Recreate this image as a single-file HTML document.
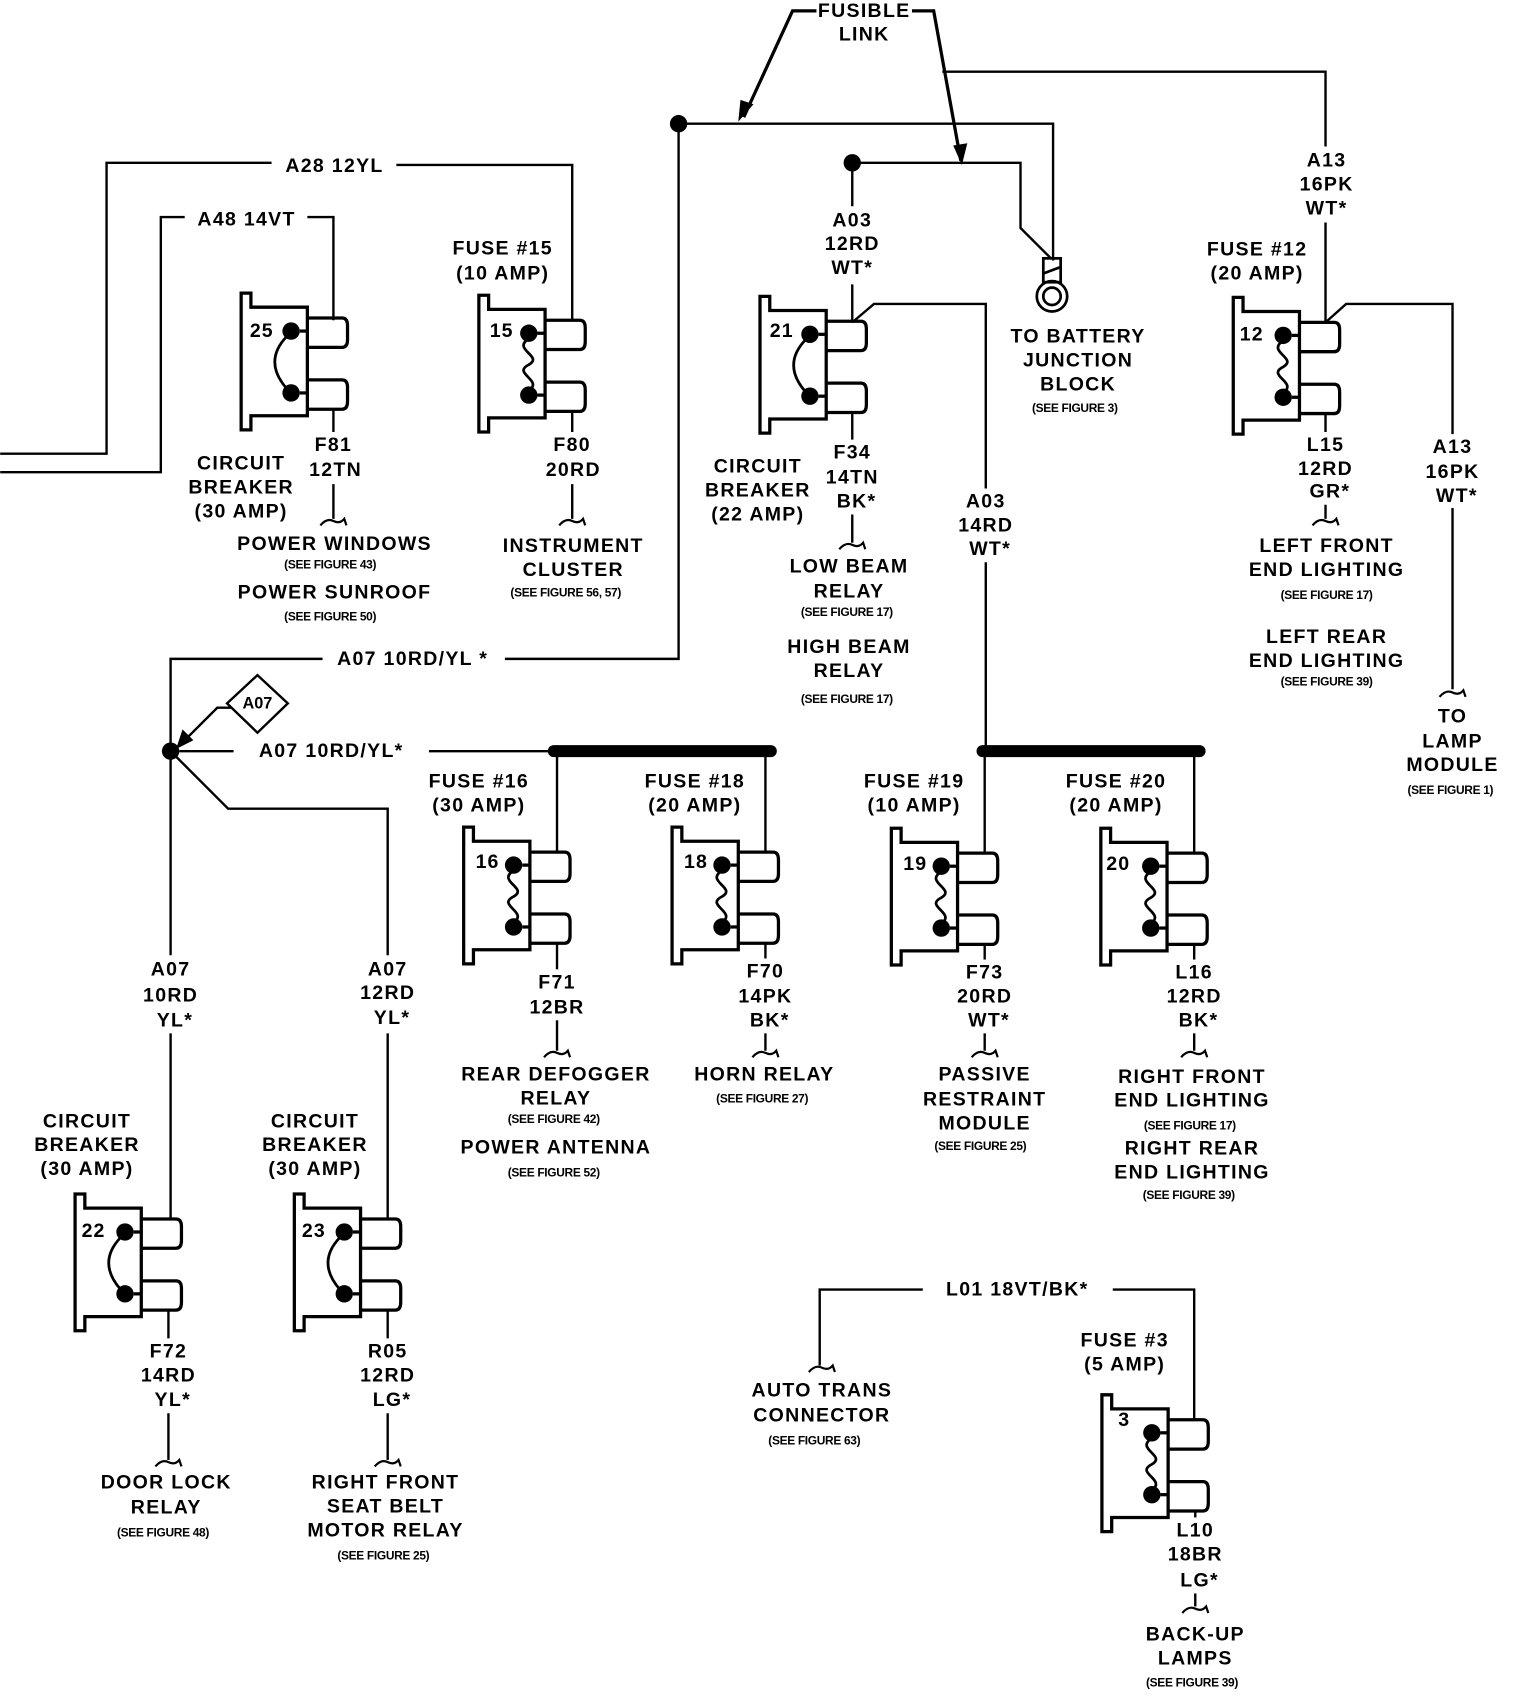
<!DOCTYPE html>
<html><head><meta charset="utf-8"><style>
html,body{margin:0;padding:0;background:#fff;}
svg{display:block;}
text{font-family:"Liberation Sans",sans-serif;font-weight:bold;fill:#000;}
.t{font-size:18px;letter-spacing:1.2px;text-anchor:middle;dominant-baseline:central;}
.s{font-size:11px;text-anchor:middle;dominant-baseline:central;letter-spacing:-0.3px;}
.n{font-size:18px;letter-spacing:1px;dominant-baseline:central;}
</style></head><body>
<svg width="1520" height="1702" viewBox="0 0 1400 1568" xmlns="http://www.w3.org/2000/svg">
<defs>
<g id="body" fill="none" stroke="#000" stroke-width="3">
<path d="M0,0H9V13H61V113H9V126H0Z" fill="#fff"/>
<path d="M61,23H93Q98,23 98,30V43Q98,50 93,50H61"/>
<path d="M61,80H93Q98,80 98,87V100Q98,107 93,107H61"/>
<circle cx="46" cy="35" r="8" fill="#000" stroke="none"/>
<circle cx="46" cy="92" r="8" fill="#000" stroke="none"/>
<line x1="54" y1="35" x2="61" y2="35"/><line x1="54" y1="92" x2="61" y2="92"/>
</g>
<g id="br"><use href="#body"/><path d="M42,40 Q20,63 42,88" fill="none" stroke="#000" stroke-width="2.5"/></g>
<g id="fu"><use href="#body"/><path d="M46,40 C30,50 60,56 46,64 C30,72 60,78 46,88" fill="none" stroke="#000" stroke-width="2.5"/></g>
<path id="cn" d="M-12,4 Q-6,-3 0,0 Q6,3 10,-2 L12,4" fill="none" stroke="#000" stroke-width="2"/>
</defs>
<g fill="none" stroke="#000" stroke-width="2.2">
<polyline points="0,418 98,418 98,150 250,150"/>
<polyline points="365,152 527,152 527,295"/>
<polyline points="0,435 148,435 148,200 170,200"/>
<polyline points="283,200 307,200 307,295"/>
<line x1="307" y1="377" x2="307" y2="398"/><line x1="307" y1="446" x2="307" y2="478"/>
<line x1="527" y1="379" x2="527" y2="398"/><line x1="527" y1="446" x2="527" y2="478"/>
<polyline points="625,114 970,114 970,240"/>
<polyline points="625,114 625,607 465,607"/>
<polyline points="297,607 157,607 157,692"/>
<polyline points="752,10 730,10 685,108" stroke-width="3"/>
<polyline points="840,10 860,10 885,148" stroke-width="3"/>
<polyline points="868,66 1221,66 1221,135"/>
<line x1="1221" y1="205" x2="1221" y2="297"/>
<polyline points="1221,297 1240,280 1338,280 1338,400"/>
<line x1="1338" y1="468" x2="1338" y2="635"/>
<line x1="1221" y1="381" x2="1221" y2="398"/><line x1="1221" y1="465" x2="1221" y2="478"/>
<polyline points="785,150 940,150 940,210 968,238"/>
<line x1="785" y1="150" x2="785" y2="190"/>
<line x1="785" y1="262" x2="785" y2="297"/>
<polyline points="785,297 805,280 908,280 908,450"/>
<line x1="908" y1="518" x2="908" y2="692"/>
<line x1="785" y1="380" x2="785" y2="405"/><line x1="785" y1="474" x2="785" y2="500"/>
<polyline points="165,692 215,692"/>
<polyline points="395,692 510,692"/>
<polyline points="157,692 210,745 357,745 357,880"/>
<line x1="157" y1="692" x2="157" y2="880"/>
<line x1="157" y1="952" x2="157" y2="1123"/>
<line x1="357" y1="952" x2="357" y2="1123"/>
<polyline points="213,652 200,652 168,684"/>
<line x1="513" y1="692" x2="513" y2="785"/>
<line x1="705" y1="692" x2="705" y2="785"/>
<line x1="907" y1="692" x2="907" y2="786"/>
<line x1="1100" y1="692" x2="1100" y2="786"/>
<line x1="513" y1="869" x2="513" y2="893"/><line x1="513" y1="940" x2="513" y2="968"/>
<line x1="705" y1="869" x2="705" y2="883"/><line x1="705" y1="952" x2="705" y2="968"/>
<line x1="907" y1="870" x2="907" y2="884"/><line x1="907" y1="952" x2="907" y2="968"/>
<line x1="1100" y1="870" x2="1100" y2="884"/><line x1="1100" y1="952" x2="1100" y2="968"/>
<line x1="155" y1="1207" x2="155" y2="1233"/><line x1="155" y1="1302" x2="155" y2="1345"/>
<line x1="357" y1="1207" x2="357" y2="1233"/><line x1="357" y1="1302" x2="357" y2="1345"/>
<polyline points="755,1258 755,1188 850,1188"/>
<polyline points="1025,1188 1100,1188 1100,1308"/>
<line x1="1101" y1="1392" x2="1101" y2="1398"/><line x1="1101" y1="1468" x2="1101" y2="1480"/>
<polygon points="237,622 265,648 237,675 209,648" fill="#fff"/>
</g>
<line x1="510" y1="692" x2="710" y2="692" stroke="#000" stroke-width="11" stroke-linecap="round"/>
<line x1="905" y1="692" x2="1105" y2="692" stroke="#000" stroke-width="11" stroke-linecap="round"/>
<polygon points="680,112 682,92 694,96" fill="#000"/>
<polygon points="886,152 878,134 891,132" fill="#000"/>
<polygon points="162,690 168,672 178,682" fill="#000"/>
<circle cx="625" cy="114" r="8" fill="#000"/>
<circle cx="785" cy="150" r="8" fill="#000"/>
<circle cx="157" cy="692" r="8" fill="#000"/>
<g fill="none" stroke="#000" stroke-width="2.5">
<rect x="961" y="238" width="16" height="22"/><line x1="961" y1="252" x2="977" y2="246"/>
<circle cx="969" cy="273" r="14"/><circle cx="969" cy="273" r="8"/>
</g>
<use href="#br" x="222" y="270"/><use href="#fu" x="441" y="272"/>
<use href="#br" x="700" y="273"/><use href="#fu" x="1136" y="274"/>
<use href="#fu" x="427" y="762"/><use href="#fu" x="619" y="762"/>
<use href="#fu" x="821" y="763"/><use href="#fu" x="1014" y="763"/>
<use href="#br" x="69" y="1100"/><use href="#br" x="271" y="1100"/>
<use href="#fu" x="1015" y="1285"/>
<use href="#cn" x="307" y="480"/><use href="#cn" x="527" y="480"/>
<use href="#cn" x="785" y="502"/><use href="#cn" x="1221" y="480"/>
<use href="#cn" x="1338" y="638"/><use href="#cn" x="513" y="970"/>
<use href="#cn" x="705" y="970"/><use href="#cn" x="907" y="970"/>
<use href="#cn" x="1100" y="970"/><use href="#cn" x="155" y="1347"/>
<use href="#cn" x="357" y="1347"/><use href="#cn" x="757" y="1260"/>
<use href="#cn" x="1101" y="1482"/>
<text class="n" x="230" y="305">25</text><text class="n" x="451" y="305">15</text>
<text class="n" x="709" y="305">21</text><text class="n" x="1142" y="308">12</text>
<text class="n" x="438" y="794">16</text><text class="n" x="630" y="794">18</text>
<text class="n" x="832" y="796">19</text><text class="n" x="1019" y="796">20</text>
<text class="n" x="75" y="1134">22</text><text class="n" x="278" y="1134">23</text>
<text class="n" x="1030" y="1308">3</text>
<text class="t" x="796" y="10">FUSIBLE</text><text class="t" x="796" y="32">LINK</text>
<text class="t" x="308" y="153">A28 12YL</text>
<text class="t" x="227" y="202">A48 14VT</text>
<text class="t" x="463" y="229">FUSE #15</text><text class="t" x="463" y="252">(10 AMP)</text>
<text class="t" x="222" y="427">CIRCUIT</text><text class="t" x="222" y="449">BREAKER</text><text class="t" x="222" y="471">(30 AMP)</text>
<text class="t" x="307" y="410">F81</text><text class="t" x="309" y="433">12TN</text>
<text class="t" x="308" y="501">POWER WINDOWS</text><text class="s" x="304" y="520">(SEE FIGURE 43)</text>
<text class="t" x="308" y="546">POWER SUNROOF</text><text class="s" x="304" y="568">(SEE FIGURE 50)</text>
<text class="t" x="527" y="410">F80</text><text class="t" x="528" y="433">20RD</text>
<text class="t" x="528" y="503">INSTRUMENT</text><text class="t" x="528" y="525">CLUSTER</text>
<text class="s" x="521" y="546">(SEE FIGURE 56, 57)</text>
<text class="t" x="785" y="203">A03</text><text class="t" x="785" y="225">12RD</text><text class="t" x="785" y="247">WT*</text>
<text class="t" x="993" y="310">TO BATTERY</text><text class="t" x="993" y="332">JUNCTION</text><text class="t" x="993" y="354">BLOCK</text>
<text class="s" x="990" y="376">(SEE FIGURE 3)</text>
<text class="t" x="1222" y="148">A13</text><text class="t" x="1222" y="170">16PK</text><text class="t" x="1222" y="192">WT*</text>
<text class="t" x="1158" y="230">FUSE #12</text><text class="t" x="1158" y="252">(20 AMP)</text>
<text class="t" x="698" y="430">CIRCUIT</text><text class="t" x="698" y="452">BREAKER</text><text class="t" x="698" y="474">(22 AMP)</text>
<text class="t" x="785" y="417">F34</text><text class="t" x="785" y="440">14TN</text><text class="t" x="789" y="462">BK*</text>
<text class="t" x="908" y="462">A03</text><text class="t" x="908" y="484">14RD</text><text class="t" x="912" y="506">WT*</text>
<text class="t" x="782" y="522">LOW BEAM</text><text class="t" x="782" y="545">RELAY</text>
<text class="s" x="780" y="564">(SEE FIGURE 17)</text>
<text class="t" x="782" y="596">HIGH BEAM</text><text class="t" x="782" y="618">RELAY</text>
<text class="s" x="780" y="644">(SEE FIGURE 17)</text>
<text class="t" x="1221" y="410">L15</text><text class="t" x="1221" y="432">12RD</text><text class="t" x="1225" y="453">GR*</text>
<text class="t" x="1338" y="412">A13</text><text class="t" x="1338" y="435">16PK</text><text class="t" x="1342" y="457">WT*</text>
<text class="t" x="1222" y="503">LEFT FRONT</text><text class="t" x="1222" y="525">END LIGHTING</text>
<text class="s" x="1222" y="548">(SEE FIGURE 17)</text>
<text class="t" x="1222" y="587">LEFT REAR</text><text class="t" x="1222" y="609">END LIGHTING</text>
<text class="s" x="1222" y="628">(SEE FIGURE 39)</text>
<text class="t" x="1338" y="660">TO</text><text class="t" x="1338" y="683">LAMP</text><text class="t" x="1338" y="705">MODULE</text>
<text class="s" x="1336" y="728">(SEE FIGURE 1)</text>
<text class="t" x="380" y="607">A07 10RD/YL *</text>
<text class="t" x="237" y="648" style="font-size:15px;letter-spacing:0">A07</text>
<text class="t" x="305" y="692">A07 10RD/YL*</text>
<text class="t" x="441" y="720">FUSE #16</text><text class="t" x="441" y="742">(30 AMP)</text>
<text class="t" x="640" y="720">FUSE #18</text><text class="t" x="640" y="742">(20 AMP)</text>
<text class="t" x="842" y="720">FUSE #19</text><text class="t" x="842" y="742">(10 AMP)</text>
<text class="t" x="1028" y="720">FUSE #20</text><text class="t" x="1028" y="742">(20 AMP)</text>
<text class="t" x="157" y="893">A07</text><text class="t" x="157" y="917">10RD</text><text class="t" x="161" y="940">YL*</text>
<text class="t" x="357" y="893">A07</text><text class="t" x="357" y="915">12RD</text><text class="t" x="361" y="938">YL*</text>
<text class="t" x="513" y="905">F71</text><text class="t" x="513" y="928">12BR</text>
<text class="t" x="705" y="895">F70</text><text class="t" x="705" y="918">14PK</text><text class="t" x="709" y="940">BK*</text>
<text class="t" x="907" y="896">F73</text><text class="t" x="907" y="918">20RD</text><text class="t" x="911" y="940">WT*</text>
<text class="t" x="1100" y="896">L16</text><text class="t" x="1100" y="918">12RD</text><text class="t" x="1104" y="940">BK*</text>
<text class="t" x="512" y="990">REAR DEFOGGER</text><text class="t" x="512" y="1012">RELAY</text>
<text class="s" x="510" y="1031">(SEE FIGURE 42)</text>
<text class="t" x="512" y="1057">POWER ANTENNA</text><text class="s" x="510" y="1080">(SEE FIGURE 52)</text>
<text class="t" x="704" y="990">HORN RELAY</text><text class="s" x="702" y="1012">(SEE FIGURE 27)</text>
<text class="t" x="907" y="990">PASSIVE</text><text class="t" x="907" y="1013">RESTRAINT</text><text class="t" x="907" y="1035">MODULE</text>
<text class="s" x="903" y="1056">(SEE FIGURE 25)</text>
<text class="t" x="1098" y="992">RIGHT FRONT</text><text class="t" x="1098" y="1014">END LIGHTING</text>
<text class="s" x="1096" y="1037">(SEE FIGURE 17)</text>
<text class="t" x="1098" y="1058">RIGHT REAR</text><text class="t" x="1098" y="1080">END LIGHTING</text>
<text class="s" x="1095" y="1101">(SEE FIGURE 39)</text>
<text class="t" x="80" y="1033">CIRCUIT</text><text class="t" x="80" y="1055">BREAKER</text><text class="t" x="80" y="1077">(30 AMP)</text>
<text class="t" x="290" y="1033">CIRCUIT</text><text class="t" x="290" y="1055">BREAKER</text><text class="t" x="290" y="1077">(30 AMP)</text>
<text class="t" x="155" y="1245">F72</text><text class="t" x="155" y="1267">14RD</text><text class="t" x="159" y="1290">YL*</text>
<text class="t" x="357" y="1245">R05</text><text class="t" x="357" y="1267">12RD</text><text class="t" x="361" y="1290">LG*</text>
<text class="t" x="153" y="1366">DOOR LOCK</text><text class="t" x="153" y="1389">RELAY</text>
<text class="s" x="150" y="1412">(SEE FIGURE 48)</text>
<text class="t" x="355" y="1366">RIGHT FRONT</text><text class="t" x="355" y="1388">SEAT BELT</text><text class="t" x="355" y="1410">MOTOR RELAY</text>
<text class="s" x="353" y="1433">(SEE FIGURE 25)</text>
<text class="t" x="937" y="1188">L01 18VT/BK*</text>
<text class="t" x="757" y="1281">AUTO TRANS</text><text class="t" x="757" y="1304">CONNECTOR</text>
<text class="s" x="750" y="1327">(SEE FIGURE 63)</text>
<text class="t" x="1036" y="1235">FUSE #3</text><text class="t" x="1036" y="1257">(5 AMP)</text>
<text class="t" x="1101" y="1410">L10</text><text class="t" x="1101" y="1432">18BR</text><text class="t" x="1105" y="1456">LG*</text>
<text class="t" x="1101" y="1506">BACK-UP</text><text class="t" x="1101" y="1528">LAMPS</text>
<text class="s" x="1098" y="1550">(SEE FIGURE 39)</text>
</svg>
</body></html>
